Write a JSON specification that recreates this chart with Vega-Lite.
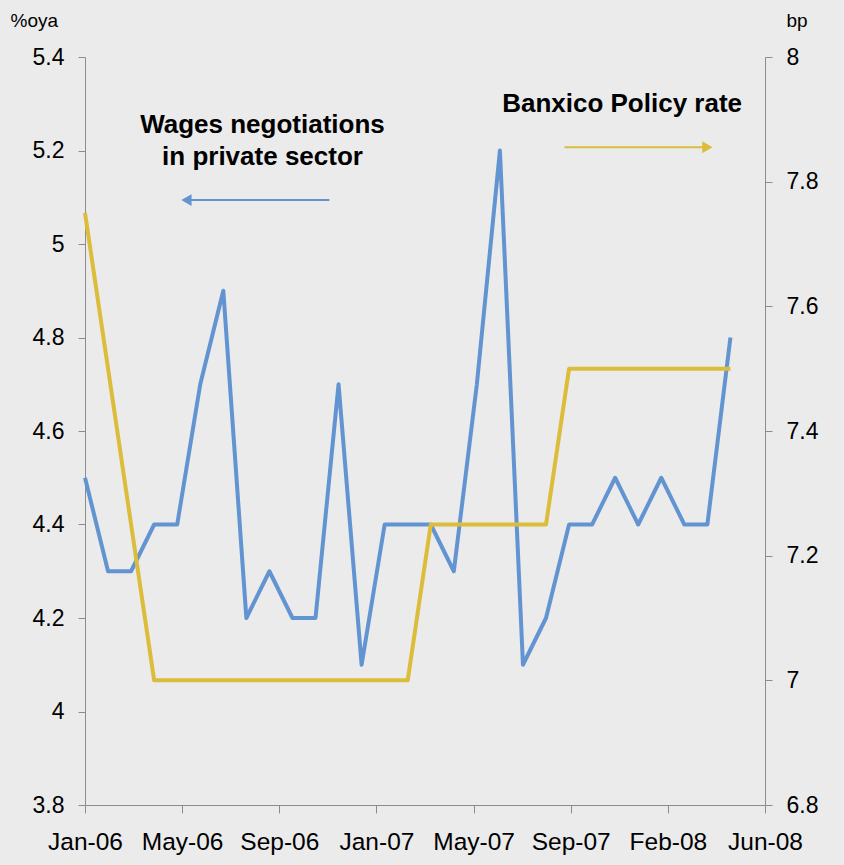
{
  "$schema": "https://vega.github.io/schema/vega-lite/v6.json",
  "width": 680,
  "height": 748,
  "autosize": {"type": "none"},
  "padding": {"left": 85, "top": 57, "right": 79, "bottom": 60},
  "background": "#ebebeb",
  "config": {
    "view": {"stroke": null},
    "font": "Liberation Sans",
    "axis": {"grid": false, "domainColor": "#8c8c8c", "tickColor": "#8c8c8c", "labelFont": "Liberation Sans", "labelColor": "#000000", "labelFontSize": 23, "titleFont": "Liberation Sans", "titleFontWeight": "normal", "titleColor": "#000000"}
  },
  "datasets": {
    "series": [
      {"i": 0, "month": "Jan-06", "wages": 4.5, "rate": 7.75},
      {"i": 1, "month": "Feb-06", "wages": 4.3, "rate": 7.5},
      {"i": 2, "month": "Mar-06", "wages": 4.3, "rate": 7.25},
      {"i": 3, "month": "Apr-06", "wages": 4.4, "rate": 7.0},
      {"i": 4, "month": "May-06", "wages": 4.4, "rate": 7.0},
      {"i": 5, "month": "Jun-06", "wages": 4.7, "rate": 7.0},
      {"i": 6, "month": "Jul-06", "wages": 4.9, "rate": 7.0},
      {"i": 7, "month": "Aug-06", "wages": 4.2, "rate": 7.0},
      {"i": 8, "month": "Sep-06", "wages": 4.3, "rate": 7.0},
      {"i": 9, "month": "Oct-06", "wages": 4.2, "rate": 7.0},
      {"i": 10, "month": "Nov-06", "wages": 4.2, "rate": 7.0},
      {"i": 11, "month": "Dec-06", "wages": 4.7, "rate": 7.0},
      {"i": 12, "month": "Jan-07", "wages": 4.1, "rate": 7.0},
      {"i": 13, "month": "Feb-07", "wages": 4.4, "rate": 7.0},
      {"i": 14, "month": "Mar-07", "wages": 4.4, "rate": 7.0},
      {"i": 15, "month": "Apr-07", "wages": 4.4, "rate": 7.25},
      {"i": 16, "month": "May-07", "wages": 4.3, "rate": 7.25},
      {"i": 17, "month": "Jun-07", "wages": 4.7, "rate": 7.25},
      {"i": 18, "month": "Jul-07", "wages": 5.2, "rate": 7.25},
      {"i": 19, "month": "Aug-07", "wages": 4.1, "rate": 7.25},
      {"i": 20, "month": "Sep-07", "wages": 4.2, "rate": 7.25},
      {"i": 21, "month": "Oct-07", "wages": 4.4, "rate": 7.5},
      {"i": 22, "month": "Nov-07", "wages": 4.4, "rate": 7.5},
      {"i": 23, "month": "Dec-07", "wages": 4.5, "rate": 7.5},
      {"i": 24, "month": "Jan-08", "wages": 4.4, "rate": 7.5},
      {"i": 25, "month": "Feb-08", "wages": 4.5, "rate": 7.5},
      {"i": 26, "month": "Mar-08", "wages": 4.4, "rate": 7.5},
      {"i": 27, "month": "Apr-08", "wages": 4.4, "rate": 7.5},
      {"i": 28, "month": "May-08", "wages": 4.8, "rate": 7.5}
    ],
    "labels": [
      {"x": 7.7, "y": 5.255, "text": "Wages negotiations"},
      {"x": 7.7, "y": 5.186, "text": "in private sector"},
      {"x": 23.3, "y": 5.3, "text": "Banxico Policy rate"}
    ],
    "arrows": [
      {"x1": 10.6, "x2": 4.4, "y": 5.094, "series": "wages", "dir": "triangle-left"},
      {"x1": 20.8, "x2": 27.0, "y": 5.207, "series": "rate", "dir": "triangle-right"}
    ]
  },
  "encoding": {
    "x": {
      "type": "quantitative",
      "scale": {"domain": [0, 29.5], "nice": false, "zero": false},
      "axis": {
        "title": null,
        "values": [0, 4.2143, 8.4286, 12.6429, 16.8571, 21.0714, 25.2857, 29.5],
        "labelExpr": "['Jan-06','May-06','Sep-06','Jan-07','May-07','Sep-07','Feb-08','Jun-08'][round(datum.value / 4.2143)]",
        "tickSize": 8,
        "labelPadding": 17,
        "labelFontSize": 24.5,
        "labelFlush": false,
        "labelOverlap": false
      }
    }
  },
  "layer": [
    {
      "encoding": {
        "y": {"type": "quantitative", "scale": {"domain": [3.8, 5.4], "nice": false, "zero": false}}
      },
      "layer": [
        {
          "data": {"name": "series"},
          "mark": {"type": "line", "color": "#6394d2", "strokeWidth": 4, "strokeJoin": "round"},
          "encoding": {
            "x": {"field": "i"},
            "y": {
              "field": "wages",
              "axis": {
                "orient": "left",
                "values": [3.8, 4, 4.2, 4.4, 4.6, 4.8, 5, 5.2, 5.4],
                "format": "~g",
                "tickSize": 7,
                "labelPadding": 14,
                "title": "%oya",
                "titleAngle": 0,
                "titleAlign": "left",
                "titleBaseline": "middle",
                "titleX": -75,
                "titleY": -37,
                "titleFontSize": 19
              }
            }
          }
        },
        {
          "data": {"name": "labels"},
          "mark": {"type": "text", "fontWeight": "bold", "fontSize": 26, "align": "center", "baseline": "middle", "color": "#000000"},
          "encoding": {
            "x": {"field": "x"},
            "y": {"field": "y"},
            "text": {"field": "text"}
          }
        },
        {
          "data": {"name": "arrows"},
          "mark": {"type": "rule", "strokeWidth": 2},
          "encoding": {
            "x": {"field": "x1"},
            "x2": {"field": "x2"},
            "y": {"field": "y"},
            "color": {"field": "series", "type": "nominal", "scale": {"domain": ["wages", "rate"], "range": ["#6394d2", "#dbbd3b"]}, "legend": null}
          }
        },
        {
          "data": {"name": "arrows"},
          "mark": {"type": "point", "filled": true, "size": 140, "opacity": 1},
          "encoding": {
            "x": {"field": "x2"},
            "y": {"field": "y"},
            "shape": {"field": "dir", "type": "nominal", "scale": null},
            "color": {"field": "series", "type": "nominal", "scale": {"domain": ["wages", "rate"], "range": ["#6394d2", "#dbbd3b"]}, "legend": null}
          }
        }
      ]
    },
    {
      "data": {"name": "series"},
      "mark": {"type": "line", "color": "#dbbd3b", "strokeWidth": 4, "strokeJoin": "round"},
      "encoding": {
        "x": {"field": "i"},
        "y": {
          "field": "rate",
          "type": "quantitative",
          "scale": {"domain": [6.8, 8], "nice": false, "zero": false},
          "axis": {
            "orient": "right",
            "values": [6.8, 7, 7.2, 7.4, 7.6, 7.8, 8],
            "format": "~g",
            "tickSize": 7,
            "labelPadding": 14,
            "title": "bp",
            "titleAngle": 0,
            "titleAlign": "left",
            "titleBaseline": "middle",
            "titleX": 21,
            "titleY": -37,
            "titleFontSize": 19
          }
        }
      }
    }
  ],
  "resolve": {"scale": {"y": "independent"}}
}
